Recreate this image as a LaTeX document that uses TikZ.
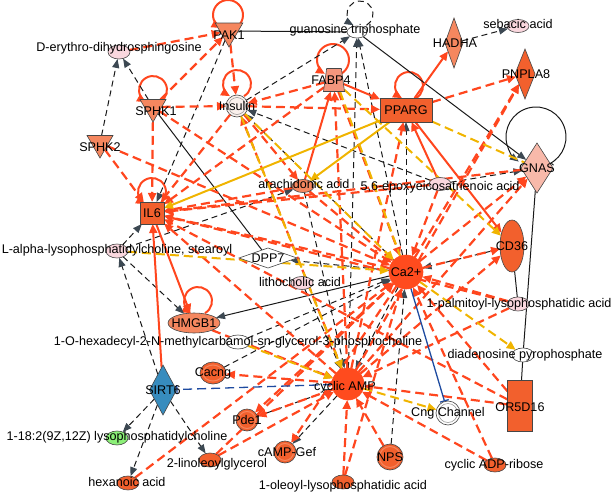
\documentclass[tikz,border=0pt]{standalone}
\usepackage{fontspec}
\setmainfont{Liberation Sans}
\usetikzlibrary{shapes.geometric,arrows.meta,calc}
\pgfdeclarelayer{bg}
\pgfsetlayers{bg,main}
\definecolor{RL}{RGB}{255,70,30}
\definecolor{YL}{RGB}{240,180,0}
\definecolor{BL}{RGB}{30,75,160}
\definecolor{KL}{RGB}{25,25,25}
\definecolor{KA}{RGB}{60,72,82}
\definecolor{orA}{RGB}{242,96,45}
\definecolor{orB}{RGB}{245,135,95}
\definecolor{orC}{RGB}{244,150,125}
\definecolor{pk}{RGB}{250,215,222}
\definecolor{gn}{RGB}{140,240,120}
\definecolor{sb}{RGB}{55,140,190}
\definecolor{caC}{RGB}{255,75,30}
\definecolor{gnasC}{RGB}{248,185,170}
\definecolor{insC}{RGB}{250,240,236}
\definecolor{SH}{RGB}{70,70,70}
\tikzset{
 lab/.style={font=\fontsize{12.6}{15}\selectfont, inner sep=0pt, text=black},
 shp/.style={inner sep=0pt, outer sep=0pt, draw=SH, line width=0.6pt},
 kin/.style={shp, regular polygon, regular polygon sides=3, shape border rotate=180},
 dia/.style={shp, diamond},
 ell/.style={shp, ellipse},
 circ/.style={shp, circle},
 rect/.style={shp, rectangle},
 trap/.style={shp, inner sep=2pt, trapezium, trapezium left angle=78, trapezium right angle=78, trapezium stretches=true, minimum width=21pt, minimum height=23pt},
 rd/.style={draw=RL, line width=2.2pt, dash pattern=on 9pt off 5pt, -{Triangle[length=9pt,width=8pt]}},
 rs/.style={draw=RL, line width=2pt, -{Triangle[length=9pt,width=8pt]}},
 kd/.style={draw=KL, line width=1pt, dash pattern=on 6pt off 4pt, -{Triangle[length=9pt,width=7pt,color=KA]}},
 ks/.style={draw=KL, line width=1pt},
 ksa/.style={ks, -{Triangle[length=9pt,width=7pt,color=KA]}},
 yd/.style={draw=YL, line width=2pt, dash pattern=on 9pt off 5pt},
 yda/.style={yd, -{Triangle[length=9pt,width=8pt]}},
 ys/.style={draw=YL, line width=2pt, -{Triangle[length=9pt,width=8pt]}},
 bls/.style={draw=BL, line width=1.3pt, -{Bar[width=9pt,line width=1.3pt]}},
 bld/.style={bls, dash pattern=on 9pt off 5pt},
}
\begin{document}
\begin{tikzpicture}[x=1pt,y=-1pt]
\useasboundingbox (0,0) rectangle (614,498);
% ---------------- nodes
\node[kin, minimum size=32pt, fill=orB] (pak) at (229,31) {};
\node[lab] (pakL) at (229,35) {PAK1};
\node[ell, minimum width=20pt, minimum height=12pt, fill=white] (gtp) at (357,32) {};
\node[lab] (gtpL) at (355,30) {guanosine triphosphate};
\node[ell, minimum width=22pt, minimum height=14pt, fill=pk] (der) at (119,52) {};
\node[lab] (derL) at (119,48) {D-erythro-dihydrosphingosine};
\node[dia, minimum width=18pt, minimum height=50pt, fill=orB] (hadha) at (454,43) {};
\node[lab] (hadhaL) at (455,43) {HADHA};
\node[ell, minimum width=22pt, minimum height=13pt, fill=pk] (seb) at (518,26) {};
\node[lab] (sebL) at (518,24) {sebacic acid};
\node[dia, minimum width=20pt, minimum height=50pt, fill=orA] (pnp) at (525,74) {};
\node[lab] (pnpL) at (526,74) {PNPLA8};
\node[kin, minimum size=30pt, fill=orB] (sphk1) at (153,107) {};
\node[lab] (sphk1L) at (156,111) {SPHK1};
\node[trap, fill=orC] (fabp) at (334,80) {};
\node[lab] (fabpL) at (331,80) {FABP4};
\node[circ, minimum size=22pt, fill=insC] (ins) at (237,106) {};
\node[circ, minimum size=17pt, draw=SH!60, line width=0.5pt] (insR) at (237,106) {};
\node[lab] (insL) at (237,106) {Insulin};
\node[rect, minimum width=52pt, minimum height=24pt, fill=orA] (pparg) at (406,110) {};
\node[lab] (ppargL) at (406,110) {PPARG};
\node[kin, minimum size=30pt, fill=orB] (sphk2) at (100,143) {};
\node[lab] (sphk2L) at (100,147) {SPHK2};
\node[dia, minimum width=32pt, minimum height=50pt, fill=gnasC] (gnas) at (537,168) {};
\node[lab] (gnasL) at (537,168) {GNAS};
\node[ell, minimum width=22pt, minimum height=13pt, fill=pk] (epo) at (440,184) {};
\node[lab] (epoL) at (440,187) {5,6-epoxyeicosatrienoic acid};
\node[ell, minimum width=22pt, minimum height=13pt, fill=orB] (ara) at (303,186) {};
\node[lab] (araL) at (304,184) {arachidonic acid};
\node[rect, minimum width=24pt, minimum height=22pt, fill=orA] (il6) at (152,213) {};
\node[lab] (il6L) at (152,213) {IL6};
\node[ell, minimum width=24pt, minimum height=52pt, fill=orA] (cd36) at (512,246) {};
\node[lab] (cd36L) at (512,246) {CD36};
\node[dia, minimum width=58pt, minimum height=20pt, fill=white] (dpp) at (268,258) {};
\node[lab] (dppL) at (268,258) {DPP7};
\node[ell, minimum width=22pt, minimum height=14pt, fill=pk] (lal) at (117,251) {};
\node[lab] (lalL) at (117,250) {L-alpha-lysophosphatidylcholine, stearoyl};
\node[circ, minimum size=34pt, fill=caC, draw=caC] (ca) at (406,272) {};
\node[lab] (caL) at (406,272) {Ca2+};
\node[ell, minimum width=22pt, minimum height=13pt, fill=pk] (lith) at (302,283) {};
\node[lab] (lithL) at (300,282) {lithocholic acid};
\node[ell, minimum width=22pt, minimum height=14pt, fill=pk] (palm) at (518,304) {};
\node[lab] (palmL) at (519,304) {1-palmitoyl-lysophosphatidic acid};
\node[ell, minimum width=52pt, minimum height=20pt, fill=orB] (hmgb) at (194,323) {};
\node[lab] (hmgbL) at (194,323) {HMGB1};
\node[ell, minimum width=24pt, minimum height=14pt, fill=white] (hexa) at (238,342) {};
\node[lab] (hexaL) at (238,342) {1-O-hexadecyl-2-N-methylcarbamol-sn-glycerol-3-phosphocholine};
\node[ell, minimum width=22pt, minimum height=14pt, fill=white] (diad) at (523,355) {};
\node[lab] (diadL) at (525,355) {diadenosine pyrophosphate};
\node[ell, minimum width=26pt, minimum height=22pt, fill=orA] (cacng) at (213,373) {};
\node[ell, minimum width=20pt, minimum height=16pt, draw=orB, line width=1pt] (cacngR) at (213,373) {};
\node[lab] (cacngL) at (213,373) {Cacng};
\node[dia, minimum width=27pt, minimum height=50pt, fill=sb] (sirt) at (163,390) {};
\node[lab] (sirtL) at (163,390) {SIRT6};
\node[circ, minimum size=32pt, fill=caC, draw=caC] (camp) at (348,384) {};
\node[lab] (campL) at (345,387) {cyclic AMP};
\node[rect, minimum width=25pt, minimum height=51pt, fill=orA] (or5) at (520,406) {};
\node[lab] (or5L) at (520,407) {OR5D16};
\node[circ, minimum size=24pt, fill=white] (cng) at (448,413) {};
\node[circ, minimum size=19pt, draw=SH!60, line width=0.5pt] (cngR) at (448,413) {};
\node[lab] (cngL) at (448,413) {Cng Channel};
\node[circ, minimum size=22pt, fill=orA] (pde) at (247,420) {};
\node[circ, minimum size=17pt, draw=orB, line width=1pt] (pdeR) at (247,420) {};
\node[lab] (pdeL) at (247,420) {Pde1};
\node[ell, minimum width=22pt, minimum height=14pt, fill=gn] (lpc) at (117,438) {};
\node[lab] (lpcL) at (117,437) {1-18:2(9Z,12Z) lysophosphatidylcholine};
\node[circ, minimum size=22pt, fill=orA] (gef) at (285,452) {};
\node[circ, minimum size=17pt, draw=orB, line width=1pt] (gefR) at (285,452) {};
\node[lab] (gefL) at (287,452) {cAMP-Gef};
\node[circ, minimum size=26pt, fill=orA] (nps) at (390,457) {};
\node[circ, minimum size=21pt, draw=orB, line width=1pt] (npsR) at (390,457) {};
\node[lab] (npsL) at (390,457) {NPS};
\node[ell, minimum width=22pt, minimum height=14pt, fill=orA] (lin) at (210,460) {};
\node[lab] (linL) at (217,464) {2-linoleoylglycerol};
\node[ell, minimum width=22pt, minimum height=14pt, fill=orA] (cadpr) at (495,465) {};
\node[lab] (cadprL) at (494,465) {cyclic ADP-ribose};
\node[ell, minimum width=22pt, minimum height=14pt, fill=orA] (hex) at (128,483) {};
\node[lab] (hexL) at (127,482) {hexanoic acid};
\node[ell, minimum width=22pt, minimum height=14pt, fill=orA] (ole) at (343,482) {};
\node[lab] (oleL) at (343,486) {1-oleoyl-lysophosphatidic acid};
% ---------------- edges
\begin{pgfonlayer}{bg}
% self loops
\draw[rs] ([shift={(-1,-16)}]pak.center) ++(60:15) arc[start angle=60,end angle=-240,radius=15];
\draw[rs] ([shift={(0,-17)}]sphk1.center) ++(60:14) arc[start angle=60,end angle=-240,radius=14];
\draw[rs] ([shift={(0,-22)}]ins.center) ++(60:14) arc[start angle=60,end angle=-240,radius=14];
\draw[rs] ([shift={(-1,-20)}]fabp.center) ++(60:16) arc[start angle=60,end angle=-240,radius=16];
\draw[rs] ([shift={(3,-24)}]pparg.center) ++(60:14) arc[start angle=60,end angle=-240,radius=14];
\draw[rs] ([shift={(0,-21)}]il6.center) ++(60:14) arc[start angle=60,end angle=-240,radius=14];
\draw[rs] ([shift={(4,-22)}]hmgb.center) ++(60:14) arc[start angle=60,end angle=-240,radius=14];
\draw[kd] ([shift={(3,-18)}]gtp.center) ++(60:13) arc[start angle=60,end angle=-240,radius=13];
\draw[ksa] ([shift={(-1,-31)}]gnas.center) ++(75:30) arc[start angle=75,end angle=-235,radius=30];
% black solid
\draw[ks] (pak) -- (gtp);
\draw[ksa] (gtp) -- (gnas);
\draw[ks] (sphk1) -- (dpp);
\draw[ksa] (ca) -- (hmgb);
\draw[ks] (gnas) -- (diad);
\draw[ks] (diad) -- (or5);
\draw[ks] (cd36) -- (palm);
% black dashed
\draw[kd] (hadha) -- (seb);
\draw[kd] (sphk1) -- (der);
\draw[kd] (sphk2) -- (der);
\draw[kd] (ins) -- (gtp);
\draw[kd] (ca) -- (gtp);
\draw[kd] (camp) -- (gtp);
\draw[kd] (pak) -- (il6);
\draw[kd] (lal) -- (il6);
\draw[kd] (lal) -- (hmgb);
\draw[kd] (sirt) -- (lal);
\draw[kd] (lal) -- (ara);
\draw[kd] (epo) -- (ins);
\draw[kd] (ca) -- (ins);
\draw[kd] (epo) -- (gnas);
\draw[kd] (cd36) -- (ca);
\draw[kd] (ca) -- (dpp);
\draw[kd] (cacng) -- (ca);
\draw[kd] (hexa) -- (ca);
\draw[kd] (pde) -- (camp);
\draw[kd] (camp) -- (gef);
\draw[kd] (nps) -- (ca);
\draw[kd] (sirt) -- (lpc);
\draw[kd] (sirt) -- (hex);
\draw[kd] (sirt) -- (lin);
\draw[kd] (ca) -- (camp);
\draw[kd] (lith) -- (camp);
\draw[kd] (ara) -- (camp);
\draw[kd] (ca) -- (pparg);
% red dashed
\draw[rd] (der) -- (pak);
\draw[rd] (sphk1) -- (pak);
\draw[rd] (pak) -- (ins);
\draw[rd] (sphk1) -- (ins);
\draw[rd] (ins) -- (pparg);
\draw[rd] (sphk1) -- (il6);
\draw[rd] (sphk2) -- (il6);
\draw[rd] (sphk2) -- (ca);
\draw[rd] (sphk1) -- (ca);
\draw[rd] (fabp) -- (ins);
\draw[rd] (ca) -- (il6);
\draw[rd] (camp) -- (il6);
\draw[rd] (ara) -- (il6);
\draw[rd] (epo) -- (il6);
\draw[rd] (gnas) -- (il6);
\draw[rd] (palm) -- (il6);
\draw[rd] (fabp) -- (il6);
\draw[rd] (or5) -- (il6);
\draw[rd] (ins) -- (il6);
\draw[rd] (pparg) -- (pnp);
\draw[rd] (ca) -- (pnp);
\draw[rd] (camp) -- (pnp);
\draw[rd] (ca) -- (cd36);
\draw[rd] (camp) -- (cd36);
\draw[rd] (ca) -- (gnas);
\draw[rd] (camp) -- (gnas);
\draw[rd] (camp) -- (pparg);
\draw[rd] (fabp) -- (ca);
\draw[rd] (camp) -- (fabp);
\draw[rd] (camp) -- (ins);
\draw[rd] (ins) -- (ara);
\draw[rd] (ara) -- (ca);
\draw[rd] (epo) -- (ca);
\draw[rd] (camp) -- (cacng);
\draw[rd] (camp) -- (pde);
\draw[rd] (ca) -- (pde);
\draw[rd] (ca) -- (gef);
\draw[rd] (ole) -- (camp);
\draw[rd] (nps) -- (camp);
\draw[rd] (ole) -- (ca);
\draw[rd] (cadpr) -- (ca);
\draw[rd] (cadpr) -- (camp);
\draw[rd] (or5) -- (ca);
\draw[rd] (or5) -- (camp);
\draw[rd] (palm) -- (ca);
\draw[rd] (palm) -- (camp);
\draw[rd] (hex) -- (ca);
\draw[rd] (lin) -- (ca);
\draw[rd] (lin) -- (camp);
\draw[rd] (hmgb) -- (camp);
% red solid
\draw[rs] (pparg) -- (hadha);
\draw[rs] (fabp) -- (pparg);
\draw[rs] (ara) -- (fabp);
\draw[rs] (il6) -- (hmgb);
\draw[rs] (sirt) -- (il6);
\draw[rs] (pparg) -- (cd36);
\draw[rs] (epo) -- (pparg);
% yellow
\draw[ys] (pparg) -- (il6);
\draw[ys] (pparg) -- (ara);
\draw[yd] (pparg) -- (gnas);
\draw[yda] (fabp) -- (cd36);
\draw[yda] (ins) -- (ca);
\draw[yda] (ins) -- (camp);
\draw[yda] (lal) -- (ca);
\draw[yda] (hexa) -- (camp);
\draw[yda] (camp) -- (cng);
\draw[yda] (ca) -- (diad);
\draw[yd] ([xshift=6pt]fabp.south) -- (ca);
% blue
\draw[bls] (ca) -- (cng);
\draw[bld] (camp) -- (sirt);
\end{pgfonlayer}
\end{tikzpicture}
\end{document}
